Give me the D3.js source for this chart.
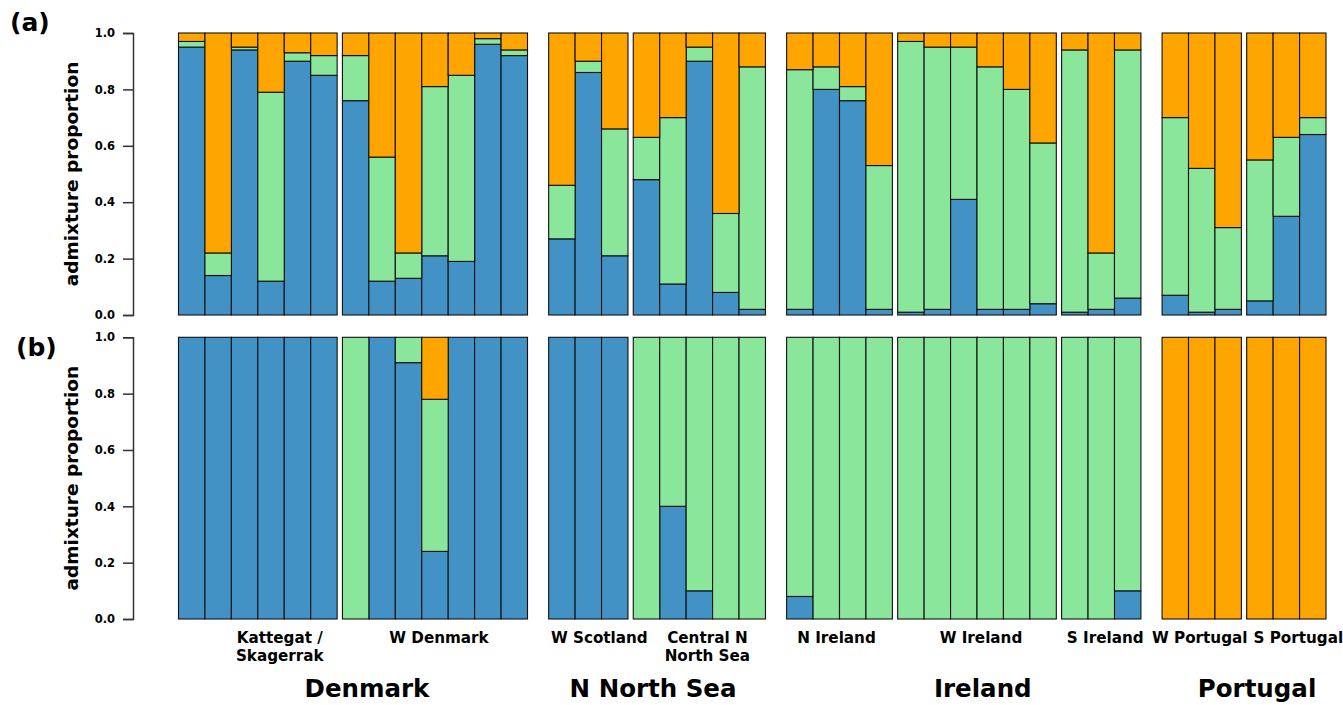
<!DOCTYPE html>
<html>
<head>
<meta charset="utf-8">
<script src="https://cdn.jsdelivr.net/npm/d3@7"></script>
<style>
  html, body { margin: 0; padding: 0; background: #fff; }
  svg text { font-family: "DejaVu Sans", Verdana, sans-serif; font-weight: bold; fill: #000; }
</style>
</head>
<body>
<svg id="chart" width="1343" height="705"></svg>
<script>
// Sampling sites (sub-groups), number of individuals per site, and parent region
const sites = ["Kattegat /\nSkagerrak", "W Denmark", "W Scotland", "Central N\nNorth Sea",
               "N Ireland", "W Ireland", "S Ireland", "W Portugal", "S Portugal"];
const siteSizes = [6, 7, 3, 5, 4, 6, 3, 3, 3];
const siteRegion = ["Denmark", "Denmark", "N North Sea", "N North Sea",
                    "Ireland", "Ireland", "Ireland", "Portugal", "Portugal"];
const regions = ["Denmark", "N North Sea", "Ireland", "Portugal"];

// (a) admixture proportions per individual: cluster 1 (blue), 2 (green), 3 (orange)
const blueA = [0.95, 0.14, 0.94, 0.12, 0.90, 0.85,
               0.76, 0.12, 0.13, 0.21, 0.19, 0.96, 0.92,
               0.27, 0.86, 0.21,
               0.48, 0.11, 0.90, 0.08, 0.02,
               0.02, 0.80, 0.76, 0.02,
               0.01, 0.02, 0.41, 0.02, 0.02, 0.04,
               0.01, 0.02, 0.06,
               0.07, 0.01, 0.02,
               0.05, 0.35, 0.64];
const greenA = [0.02, 0.08, 0.01, 0.67, 0.03, 0.07,
                0.16, 0.44, 0.09, 0.60, 0.66, 0.02, 0.02,
                0.19, 0.04, 0.45,
                0.15, 0.59, 0.05, 0.28, 0.86,
                0.85, 0.08, 0.05, 0.51,
                0.96, 0.93, 0.54, 0.86, 0.78, 0.57,
                0.93, 0.20, 0.88,
                0.63, 0.51, 0.29,
                0.50, 0.28, 0.06];
const orangeA = [0.03, 0.78, 0.05, 0.21, 0.07, 0.08,
                 0.08, 0.44, 0.78, 0.19, 0.15, 0.02, 0.06,
                 0.54, 0.10, 0.34,
                 0.37, 0.30, 0.05, 0.64, 0.12,
                 0.13, 0.12, 0.19, 0.47,
                 0.03, 0.05, 0.05, 0.12, 0.20, 0.39,
                 0.06, 0.78, 0.06,
                 0.30, 0.48, 0.69,
                 0.45, 0.37, 0.30];

// (b) admixture proportions per individual
const blueB = [1, 1, 1, 1, 1, 1,
               0, 1, 0.91, 0.24, 1, 1, 1,
               1, 1, 1,
               0, 0.40, 0.10, 0, 0,
               0.08, 0, 0, 0,
               0, 0, 0, 0, 0, 0,
               0, 0, 0.10,
               0, 0, 0,
               0, 0, 0];
const greenB = [0, 0, 0, 0, 0, 0,
                1, 0, 0.09, 0.54, 0, 0, 0,
                0, 0, 0,
                1, 0.60, 0.90, 1, 1,
                0.92, 1, 1, 1,
                1, 1, 1, 1, 1, 1,
                1, 1, 0.90,
                0, 0, 0,
                0, 0, 0];
const orangeB = [0, 0, 0, 0, 0, 0,
                 0, 0, 0, 0.22, 0, 0, 0,
                 0, 0, 0,
                 0, 0, 0, 0, 0,
                 0, 0, 0, 0,
                 0, 0, 0, 0, 0, 0,
                 0, 0, 0,
                 1, 1, 1,
                 1, 1, 1];

const yTicks = [0, 0.2, 0.4, 0.6, 0.8, 1.0];
const clusterKeys = ["blue", "green", "orange"];
const clusterColors = ["#4292c6", "#8ae69a", "#ffa500"];

// ---- layout ----
const svg = d3.select("#chart");
const smallGap = 0.2, bigGap = 0.8;   // gaps between sites / regions, in bar widths
const panels = [
  { tag: "(a)", blue: blueA, green: greenA, orange: orangeA, top: 33, bottom: 315, tagX: 10, tagY: 31 },
  { tag: "(b)", blue: blueB, green: greenB, orange: orangeB, top: 337.3, bottom: 619, tagX: 16, tagY: 356 }
];
// horizontal nudges for the site and region captions
const siteLabelDx = [22, 4, 11, 8, -3, 4, 4, -2, 12];
const regionLabelDx = [14, -4, 19, 13];

// positions of each individual in bar-width units
const bars = [];
const siteSpan = [];
let u = 0;
siteSizes.forEach((n, s) => {
  if (s > 0) u += (siteRegion[s] === siteRegion[s - 1]) ? smallGap : bigGap;
  const start = u;
  for (let k = 0; k < n; k++) { bars.push({ site: s, u0: u }); u += 1; }
  siteSpan.push([start, u]);
});
const totalUnits = u;
const x = d3.scaleLinear().domain([0, totalUnits]).range([178.5, 1326]);

const stack = d3.stack().keys(clusterKeys);
const color = d3.scaleOrdinal().domain(clusterKeys).range(clusterColors);

panels.forEach(p => {
  const y = d3.scaleLinear().domain([0, 1]).range([p.bottom, p.top]);
  const rows = bars.map((b, i) => ({ u0: b.u0, blue: p.blue[i], green: p.green[i], orange: p.orange[i] }));
  const series = stack(rows);

  const g = svg.append("g");
  series.forEach(s => {
    g.selectAll(null)
      .data(s.filter(d => d[1] - d[0] > 0))
      .join("rect")
      .attr("x", d => x(d.data.u0))
      .attr("width", d => x(d.data.u0 + 1) - x(d.data.u0))
      .attr("y", d => y(d[1]))
      .attr("height", d => y(d[0]) - y(d[1]))
      .attr("fill", color(s.key))
      .attr("stroke", "#111")
      .attr("stroke-width", 1.1);
  });

  // y axis
  const axis = svg.append("g")
    .attr("transform", "translate(133,0)")
    .call(d3.axisLeft(y).tickValues(yTicks).tickFormat(d3.format(".1f")).tickSize(10).tickPadding(8));
  axis.select(".domain").attr("stroke", "#333").attr("stroke-width", 1.5);
  axis.selectAll(".tick line").attr("stroke", "#333").attr("stroke-width", 1.5);
  axis.selectAll(".tick text")
    .attr("font-family", "DejaVu Sans").attr("font-weight", "bold")
    .attr("font-size", 11.5).attr("fill", "#000");

  // axis title
  svg.append("text")
    .attr("transform", `translate(78,${(p.top + p.bottom) / 2}) rotate(-90)`)
    .attr("text-anchor", "middle")
    .attr("font-size", 18.5)
    .text("admixture proportion");

  // panel tag
  svg.append("text")
    .attr("x", p.tagX)
    .attr("y", p.tagY)
    .attr("font-size", 25)
    .text(p.tag);
});

// site captions
sites.forEach((name, s) => {
  const cx = (x(siteSpan[s][0]) + x(siteSpan[s][1])) / 2 + siteLabelDx[s];
  const t = svg.append("text").attr("text-anchor", "middle").attr("font-size", 15.2);
  name.split("\n").forEach((line, i) => {
    t.append("tspan").attr("x", cx).attr("y", 643 + i * 17.5).text(line);
  });
});

// region captions
regions.forEach((r, k) => {
  const idx = siteRegion.map((d, i) => d === r ? i : -1).filter(i => i >= 0);
  const x0 = x(siteSpan[idx[0]][0]), x1 = x(siteSpan[idx[idx.length - 1]][1]);
  svg.append("text")
    .attr("x", (x0 + x1) / 2 + regionLabelDx[k])
    .attr("y", 697)
    .attr("text-anchor", "middle")
    .attr("font-size", 24.5)
    .text(r);
});
</script>
</body>
</html>
